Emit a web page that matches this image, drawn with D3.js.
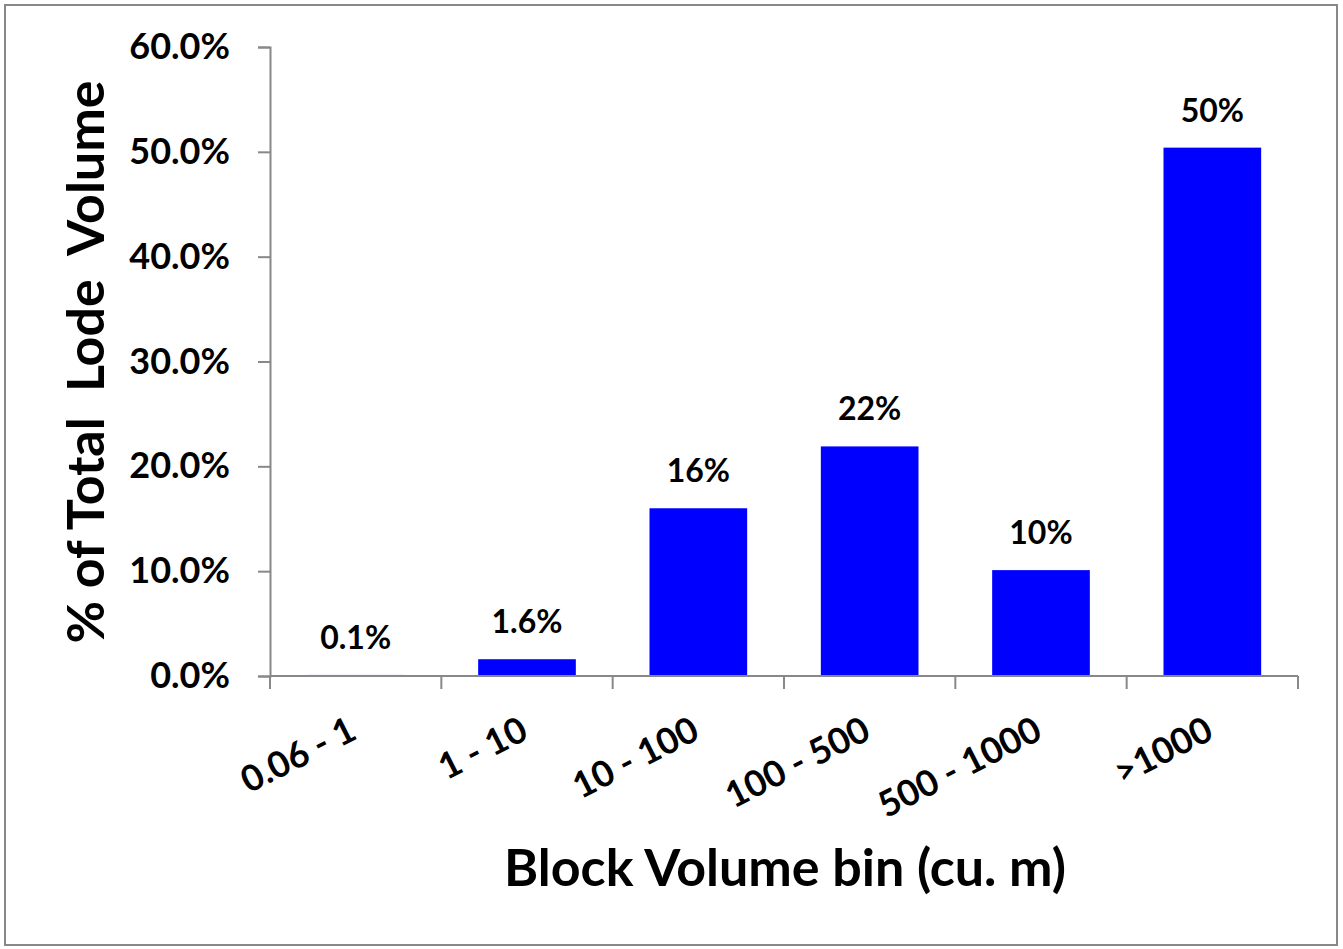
<!DOCTYPE html>
<html lang="en">
<head>
    <meta charset="UTF-8">
    <title>Block Volume bins</title>
    <script src="https://d3js.org/d3.v7.min.js"></script>
    <style>
        body {
            margin: 0;
            padding: 0;
            background-color: #fff;
        }
        svg text {
            font-family: 'Lato', 'Open Sans', sans-serif;
            font-weight: bold;
            fill: #000;
        }
        .axis path, .axis line {
            stroke: #888;
            stroke-width: 2px;
        }
    </style>
</head>
<body>
    <svg width="1343" height="949"></svg>
    <script>
        const categories = ["0.06 - 1", "1 - 10", "10 - 100", "100 - 500", "500 - 1000", ">1000"];
        const values = [0.1, 1.6, 16.0, 21.9, 10.1, 50.4];
        const labels = ["0.1%", "1.6%", "16%", "22%", "10%", "50%"];
        const yTicks = [0, 10, 20, 30, 40, 50, 60];

        const width = 1343, height = 949;
        const margin = { top: 47, right: 45, bottom: 273, left: 270 };
        const svg = d3.select("svg");

        // outer frame
        svg.append("rect")
            .attr("x", 5).attr("y", 5)
            .attr("width", 1332).attr("height", 940)
            .attr("fill", "#fff")
            .attr("stroke", "#888")
            .attr("stroke-width", 2);

        const x = d3.scaleBand()
            .domain(categories)
            .range([margin.left, width - margin.right])
            .paddingInner(0.43)
            .paddingOuter(0.215);

        const y = d3.scaleLinear()
            .domain([0, 60])
            .range([height - margin.bottom, margin.top]);

        // bars
        svg.selectAll(".bar")
            .data(values)
            .enter()
            .append("rect")
            .attr("class", "bar")
            .attr("x", (d, i) => x(categories[i]))
            .attr("width", x.bandwidth())
            .attr("y", d => y(d))
            .attr("height", d => y(0) - y(d))
            .attr("fill", "#0000ff");

        // y axis
        const yAxis = svg.append("g")
            .attr("class", "axis")
            .attr("transform", `translate(${margin.left},0)`)
            .call(d3.axisLeft(y).tickValues(yTicks).tickSize(12).tickPadding(28)
                .tickFormat(d => d.toFixed(1) + "%"));
        yAxis.selectAll("text").style("font-size", "36px");

        // x axis with ticks on category boundaries
        const xAxis = svg.append("g")
            .attr("class", "axis")
            .attr("transform", `translate(0,${y(0)})`);
        xAxis.append("line")
            .attr("x1", margin.left).attr("x2", width - margin.right)
            .attr("y1", 0).attr("y2", 0);
        const step = x.step();
        const bounds = d3.range(categories.length + 1).map(i => margin.left + i * step);
        xAxis.selectAll(".tick-b")
            .data(bounds)
            .enter()
            .append("line")
            .attr("x1", d => d).attr("x2", d => d)
            .attr("y1", 0).attr("y2", 13);

        xAxis.selectAll(".xlab")
            .data(categories)
            .enter()
            .append("text")
            .attr("text-anchor", "end")
            .attr("transform", d => `translate(${x(d) + x.bandwidth() / 2 + 3},62) rotate(-27)`)
            .style("font-size", "36px")
            .text(d => d);

        // data labels
        svg.selectAll(".dlabel")
            .data(values)
            .enter()
            .append("text")
            .attr("text-anchor", "middle")
            .attr("x", (d, i) => x(categories[i]) + x.bandwidth() / 2)
            .attr("y", d => y(d) - 26)
            .style("font-size", "32px")
            .text((d, i) => labels[i]);

        // axis titles
        svg.append("text")
            .attr("text-anchor", "middle")
            .attr("x", 785)
            .attr("y", 886)
            .style("font-size", "52px")
            .text("Block Volume bin (cu. m)");

        svg.append("text")
            .attr("text-anchor", "middle")
            .attr("transform", "translate(104,362) rotate(-90)")
            .style("font-size", "52px")
            .style("white-space", "pre")
            .text("% of Total  Lode  Volume");
    </script>
</body>
</html>
